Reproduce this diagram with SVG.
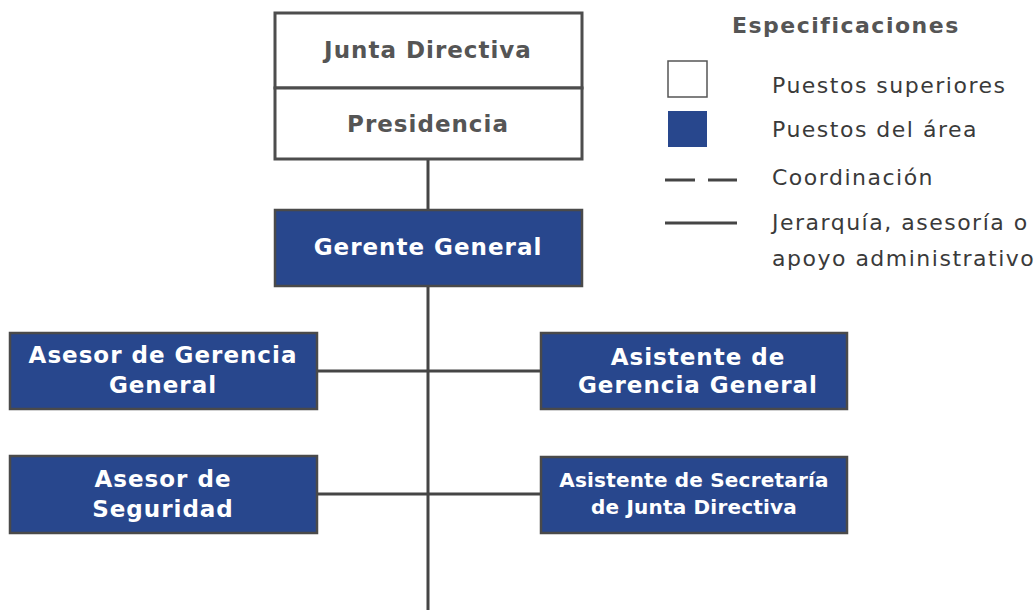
<svg xmlns="http://www.w3.org/2000/svg" width="1036" height="610" viewBox="0 0 1036 610">
  <style>
    .top { fill: #ffffff; stroke: #4d4d4d; stroke-width: 3; }
    .blue { fill: #28478d; stroke: #4a4a4a; stroke-width: 2.5; }
    .tt { font-family: "DejaVu Sans", Verdana, sans-serif; font-weight: bold; font-size: 23px; letter-spacing: 1px; fill: #555555; text-anchor: middle; }
    .bt { font-family: "DejaVu Sans", Verdana, sans-serif; font-weight: bold; font-size: 23px; letter-spacing: 1px; fill: #ffffff; text-anchor: middle; }
    .bs { font-size: 20px; letter-spacing: 0.2px; }
    .conn { stroke: #454545; stroke-width: 3; fill: none; }
    .lg { font-family: "DejaVu Sans", Verdana, sans-serif; font-size: 22px; fill: #3a3a3a; letter-spacing: 1.5px; }
    .lh { font-family: "DejaVu Sans", Verdana, sans-serif; font-size: 22px; font-weight: bold; fill: #555555; letter-spacing: 1.5px; }
  </style>
  <rect width="1036" height="610" fill="#ffffff"/>
  <g id="connectors">
    <line class="conn" x1="428" y1="159" x2="428" y2="210"/>
    <line class="conn" x1="428" y1="286" x2="428" y2="610"/>
    <line class="conn" x1="317" y1="371" x2="541" y2="371"/>
    <line class="conn" x1="317" y1="494" x2="541" y2="494"/>
  </g>
  <g id="junta-directiva">
    <rect class="top" x="275" y="13" width="307" height="75"/>
    <text class="tt" x="428" y="58">Junta Directiva</text>
  </g>
  <g id="presidencia">
    <rect class="top" x="275" y="88" width="307" height="71"/>
    <text class="tt" x="428" y="132">Presidencia</text>
  </g>
  <g id="gerente-general">
    <rect class="blue" x="275" y="210" width="307" height="76"/>
    <text class="bt" x="428" y="255">Gerente General</text>
  </g>
  <g id="asesor-gerencia">
    <rect class="blue" x="10" y="333" width="307" height="76"/>
    <text class="bt" x="163" y="363">Asesor de Gerencia</text>
    <text class="bt" x="163" y="393">General</text>
  </g>
  <g id="asistente-gerencia">
    <rect class="blue" x="541" y="333" width="306" height="76"/>
    <text class="bt" x="698" y="365">Asistente de</text>
    <text class="bt" x="698" y="393">Gerencia General</text>
  </g>
  <g id="asesor-seguridad">
    <rect class="blue" x="10" y="456" width="307" height="77"/>
    <text class="bt" x="163" y="487">Asesor de</text>
    <text class="bt" x="163" y="517">Seguridad</text>
  </g>
  <g id="asistente-secretaria">
    <rect class="blue" x="541" y="457" width="306" height="76"/>
    <text class="bt bs" x="694" y="487">Asistente de Secretaría</text>
    <text class="bt bs" x="694" y="514">de Junta Directiva</text>
  </g>
  <g id="legend">
    <text class="lh" x="732" y="33">Especificaciones</text>
    <rect x="668" y="61" width="39" height="36" fill="#ffffff" stroke="#555555" stroke-width="1.5"/>
    <rect x="668" y="111" width="39" height="36" fill="#28478d"/>
    <line x1="665" y1="180" x2="695" y2="180" stroke="#454545" stroke-width="3"/>
    <line x1="708" y1="180" x2="737" y2="180" stroke="#454545" stroke-width="3"/>
    <line x1="665" y1="223" x2="737" y2="223" stroke="#454545" stroke-width="3"/>
    <text class="lg" x="772" y="93">Puestos superiores</text>
    <text class="lg" x="772" y="137">Puestos del área</text>
    <text class="lg" x="772" y="185">Coordinación</text>
    <text class="lg" x="772" y="230">Jerarquía, asesoría o</text>
    <text class="lg" x="772" y="266">apoyo administrativo</text>
  </g>
</svg>
